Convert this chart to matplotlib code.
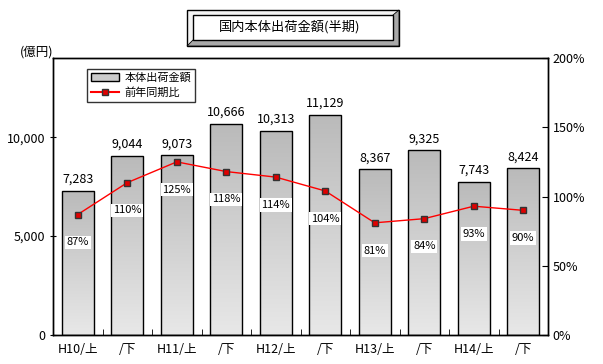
import matplotlib
matplotlib.use("Agg")

import matplotlib.pyplot as plt
import numpy as np
from matplotlib.patches import Rectangle, Polygon
from matplotlib.lines import Line2D

plt.rcParams['font.family'] = ['Noto Sans CJK JP', 'DejaVu Sans']

categories = ["H10/上", "/下", "H11/上", "/下", "H12/上", "/下", "H13/上", "/下", "H14/上", "/下"]
amounts = [7283, 9044, 9073, 10666, 10313, 11129, 8367, 9325, 7743, 8424]
ratios = [87, 110, 125, 118, 114, 104, 81, 84, 93, 90]

W, H = 603, 364
fig = plt.figure(figsize=(W / 100, H / 100), dpi=100)
ax = fig.add_axes([53 / W, (H - 335) / H, (548 - 53) / W, (335 - 58) / H])
ax2 = ax.twinx()

x = np.arange(len(categories))
bars = ax.bar(x, amounts, width=0.65, color="none", edgecolor="black", linewidth=1.0, zorder=2)

# vertical gradient fill for bars
grad = np.linspace(0, 1, 256).reshape(-1, 1)
cmap = matplotlib.colors.LinearSegmentedColormap.from_list("g", ["#e8e8e8", "#bababa"])
for b in bars:
    im = ax.imshow(grad, cmap=cmap, aspect="auto",
                   extent=[b.get_x(), b.get_x() + b.get_width(), 0, b.get_height()],
                   origin="lower", zorder=1)
    im.set_clip_path(b)

for xi, v in zip(x, amounts):
    ax.text(xi, v + 250, f"{v:,}", ha="center", va="bottom", fontsize=9)

ax.set_xlim(-0.5, len(categories) - 0.5)
ax.set_ylim(0, 14000)
ax.set_yticks([0, 5000, 10000])
ax.set_yticklabels(["0", "5,000", "10,000"])
ax.set_xticks(x)
ax.set_xticklabels(categories)
ax.set_xticks(np.arange(-0.5, len(categories), 1), minor=True)
ax.tick_params(axis="x", which="major", length=0, labelsize=9, pad=6)
ax.tick_params(axis="x", which="minor", length=4, direction="in")
ax.tick_params(axis="y", length=4, direction="inout", labelsize=9)

ax2.plot(x, ratios, color="#ff0000", linewidth=1, marker="s", markersize=5,
         markerfacecolor="#e00000", markeredgecolor="#333333", zorder=5)
for xi, r in zip(x, ratios):
    ax2.annotate(f"{r}%", (xi, r), xytext=(0, -20), textcoords="offset points",
                 ha="center", va="center", fontsize=8,
                 bbox=dict(boxstyle="square,pad=0.15", fc="white", ec="none"), zorder=6)
ax2.set_ylim(0, 200)
ax2.set_yticks([0, 50, 100, 150, 200])
ax2.set_yticklabels(["0%", "50%", "100%", "150%", "200%"])
ax2.tick_params(axis="y", length=4, direction="in", labelsize=9)

for a in (ax, ax2):
    for s in a.spines.values():
        s.set_linewidth(1)
ax.set_zorder(ax2.get_zorder() - 1)
ax2.patch.set_visible(False)

fig.text(20 / W, 1 - 52 / H, "(億円)", fontsize=9, ha="left", va="center")

# legend
handles = [Rectangle((0, 0), 1, 1, fc="#cccccc", ec="black"),
           Line2D([0], [0], color="#ff0000", marker="s", markersize=5,
                  markerfacecolor="#e00000", markeredgecolor="#333333")]
leg = ax.legend(handles, ["本体出荷金額", "前年同期比"], loc="upper left",
                bbox_to_anchor=(34 / 495, 1 - 11 / 277), borderaxespad=0,
                fontsize=8, frameon=True, fancybox=False, edgecolor="black",
                handlelength=2.5, handletextpad=0.5, borderpad=0.35,
                labelspacing=0.35)
leg.get_frame().set_linewidth(1)


# title box with bevel (pixel coords -> figure fraction)
def fx(px):
    return px / W


def fy(py):
    return 1 - py / H


ox0, oy0, ox1, oy1 = 187, 10, 399, 46
ix0, iy0, ix1, iy1 = 193, 15, 393, 40
fig.patches.append(Rectangle((fx(ox0), fy(oy1)), fx(ox1) - fx(ox0), fy(oy0) - fy(oy1),
                             transform=fig.transFigure, fc="#f4f4f4", ec="black", lw=1))
shade = [(fx(ox1), fy(oy0)), (fx(ox1), fy(oy1)), (fx(ox0), fy(oy1)),
         (fx(ix0), fy(iy1)), (fx(ix1), fy(iy1)), (fx(ix1), fy(iy0))]
fig.patches.append(Polygon(shade, closed=True, transform=fig.transFigure,
                           fc="#a8a8a8", ec="black", lw=0.6))
fig.patches.append(Rectangle((fx(ix0), fy(iy1)), fx(ix1) - fx(ix0), fy(iy0) - fy(iy1),
                             transform=fig.transFigure, fc="white", ec="black", lw=1))
fig.text(fx(290), fy(27), "国内本体出荷金額(半期)", fontsize=9.5,
         ha="center", va="center")

fig.savefig("out.png", dpi=100)
